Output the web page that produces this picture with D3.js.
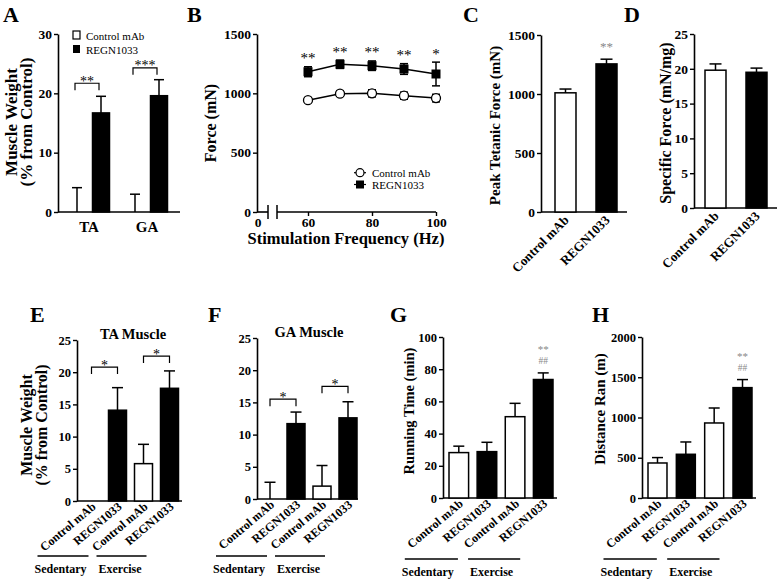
<!DOCTYPE html>
<html><head><meta charset="utf-8">
<script src="https://cdn.jsdelivr.net/npm/d3@7"></script>
<style>
body{margin:0;background:#fff;}
svg{display:block;}
</style></head><body>
<svg id="fig" width="778" height="580"></svg>
<script>
// ---------------- DATA ----------------
// Panel A
const aMuscles = ["TA", "GA"];
const aSeries = ["Control mAb", "REGN1033"];
const aControl = [0, 0];
const aControlErr = [4.1, 3.0];
const aRegn = [16.7, 19.6];
const aRegnErr = [2.8, 2.7];
const aTicks = [0, 10, 20, 30];
const aBracket = [21.7, 24.3];
const aStars = ["**", "***"];
// Panel B
const bFreq = [60, 70, 80, 90, 100];
const bControl = [942, 997, 1000, 980, 960];
const bControlErr = [18, 22, 30, 30, 32];
const bRegn = [1182, 1245, 1233, 1205, 1163];
const bRegnErr = [42, 35, 40, 45, 100];
const bStars = ["**", "**", "**", "**", "*"];
const bYTicks = [0, 500, 1000, 1500];
const bXTicks = [60, 80, 100];
// Panel C
const treatments = ["Control mAb", "REGN1033"];
const cMean = [1010, 1255];
const cErr = [32, 40];
const cYTicks = [0, 500, 1000, 1500];
// Panel D
const dMean = [19.8, 19.5];
const dErr = [0.9, 0.6];
const dYTicks = [0, 5, 10, 15, 20, 25];
// Panels E-H
const barLabels = ["Control mAb", "REGN1033", "Control mAb", "REGN1033"];
const conditions = ["Sedentary", "Exercise"];
const eMean = [0, 14.1, 5.8, 17.5];
const eErr = [0, 3.5, 3.0, 2.7];
const eBracket = [20.8, 22.5];
const eTicks = [0, 5, 10, 15, 20, 25];
const fMean = [0, 11.7, 2.0, 12.6];
const fErr = [2.6, 1.8, 3.2, 2.5];
const fBracket = [15.5, 17.5];
const fTicks = [0, 5, 10, 15, 20, 25];
const gMean = [28.2, 28.8, 50.5, 73.6];
const gErr = [4.0, 5.8, 8.3, 4.1];
const gTicks = [0, 20, 40, 60, 80, 100];
const hMean = [435, 543, 932, 1371];
const hErr = [67, 153, 186, 100];
const hTicks = [0, 500, 1000, 1500, 2000];

// ---------------- HELPERS ----------------
const FONT = '"Liberation Serif","Times New Roman",Times,serif';
const svg = d3.select("#fig").attr("font-family", FONT);
const fills = ["#fff", "#000"];
const fmt = d3.format("d");

function txt(g, x, y, s, o = {}) {
  const t = g.append("text").attr("x", x).attr("y", y).text(s)
    .attr("font-family", FONT)
    .attr("font-size", o.size || 13)
    .attr("font-weight", o.weight || "bold")
    .attr("text-anchor", o.anchor || "start")
    .attr("fill", o.fill || "#000");
  if (o.rotate != null) t.attr("transform", `rotate(${o.rotate},${x},${y})`);
  return t;
}
function yAxis(scale, ticks, x, fs) {
  const ax = svg.append("g").attr("transform", `translate(${x},0)`)
    .call(d3.axisLeft(scale).tickValues(ticks).tickFormat(fmt).tickSize(4).tickSizeOuter(0).tickPadding(2));
  ax.select(".domain").attr("stroke", "#000").attr("stroke-width", 1.6);
  ax.selectAll(".tick line").attr("stroke", "#000").attr("stroke-width", 1.4);
  ax.selectAll(".tick text").attr("font-family", FONT).attr("font-weight", "bold")
    .attr("font-size", fs).attr("fill", "#000");
  return ax;
}
function hline(x1, x2, y, w = 1.6) {
  svg.append("line").attr("x1", x1).attr("x2", x2).attr("y1", y).attr("y2", y)
    .attr("stroke", "#000").attr("stroke-width", w);
}
function errBar(cx, yFrom, yTo, cap) {
  svg.append("line").attr("x1", cx).attr("x2", cx).attr("y1", yFrom).attr("y2", yTo)
    .attr("stroke", "#000").attr("stroke-width", 1.5);
  svg.append("line").attr("x1", cx - cap / 2).attr("x2", cx + cap / 2).attr("y1", yTo).attr("y2", yTo)
    .attr("stroke", "#000").attr("stroke-width", 1.5);
}
function bar(x, w, y, y0, fill) {
  if (y0 - y < 0.5) return;
  svg.append("rect").attr("x", x).attr("y", y).attr("width", w).attr("height", y0 - y)
    .attr("fill", fill).attr("stroke", "#000").attr("stroke-width", 1.5);
}
function bracket(x1, x2, y, leg, label, size) {
  svg.append("path").attr("d", `M${x1},${y + leg}V${y}H${x2}V${y + leg}`)
    .attr("fill", "none").attr("stroke", "#000").attr("stroke-width", 1.2);
  txt(svg, (x1 + x2) / 2, y + 0.5 * size - 4.5, label, { size, anchor: "middle", weight: "normal" });
}

// ---------------- PANEL A ----------------
txt(svg, 3, 22, "A", { size: 22 });
const yA = d3.scaleLinear().domain([0, 30]).range([212, 34]);
const xA = d3.scaleBand().domain(aMuscles).range([60, 176]);
const xAs = d3.scaleBand().domain(aSeries).range([8.5, 49.5]).paddingInner(0.2917);
yAxis(yA, aTicks, 58, 13.5);
hline(58, 180, 212);
aMuscles.forEach((m, i) => {
  const vals = [aControl[i], aRegn[i]], errs = [aControlErr[i], aRegnErr[i]];
  const centers = [];
  aSeries.forEach((s, j) => {
    const x = xA(m) + xAs(s), w = xAs.bandwidth();
    bar(x, w, yA(vals[j]), yA(0), fills[j]);
    errBar(x + w / 2, yA(vals[j]), yA(vals[j] + errs[j]), 10);
    centers.push(x + w / 2);
  });
  bracket(centers[0] - 2, centers[1] - 2, yA(aBracket[i]), 7, aStars[i], 14);
  txt(svg, xA(m) + xA.bandwidth() / 2, 232, m, { size: 15, anchor: "middle" });
});
svg.append("rect").attr("x", 73).attr("y", 31).attr("width", 7).attr("height", 8)
  .attr("fill", "#fff").attr("stroke", "#000").attr("stroke-width", 1.2);
svg.append("rect").attr("x", 73).attr("y", 45).attr("width", 7).attr("height", 8).attr("fill", "#000");
txt(svg, 86, 39.5, aSeries[0], { size: 11, weight: "normal" });
txt(svg, 86, 53.5, aSeries[1], { size: 11, weight: "normal" });
txt(svg, 17, 122, "Muscle Weight", { size: 17, anchor: "middle", rotate: -90 });
txt(svg, 32, 122, "(% from Control)", { size: 17, anchor: "middle", rotate: -90 });

// ---------------- PANEL B ----------------
txt(svg, 187, 22, "B", { size: 22 });
const yB = d3.scaleLinear().domain([0, 1500]).range([212, 34]);
const xB = d3.scaleLinear().domain([60, 100]).range([308, 436]);
yAxis(yB, bYTicks, 257, 13.5);
hline(257, 268, 212);
hline(277, 436, 212);
[268, 277].forEach(x => svg.append("line").attr("x1", x).attr("x2", x).attr("y1", 205).attr("y2", 219)
  .attr("stroke", "#000").attr("stroke-width", 1.5));
const bxAx = svg.append("g").attr("transform", "translate(0,212)")
  .call(d3.axisBottom(xB).tickValues(bXTicks).tickFormat(fmt).tickSize(4).tickSizeOuter(0).tickPadding(1));
bxAx.select(".domain").remove();
bxAx.selectAll(".tick line").attr("stroke", "#000").attr("stroke-width", 1.4);
bxAx.selectAll(".tick text").attr("font-family", FONT).attr("font-weight", "bold").attr("font-size", 13.5).attr("fill", "#000");
txt(svg, 258, 227, "0", { size: 13.5, anchor: "middle" });
const lineGen = d3.line().x((d, i) => xB(bFreq[i])).y(d => yB(d));
[bControl, bRegn].forEach(arr => svg.append("path").attr("d", lineGen(arr)).attr("fill", "none")
  .attr("stroke", "#000").attr("stroke-width", 1.5));
bFreq.forEach((f, i) => {
  errBar(xB(f), yB(bControl[i] - bControlErr[i]), yB(bControl[i] + bControlErr[i]), 8);
  svg.append("line").attr("x1", xB(f) - 4).attr("x2", xB(f) + 4)
    .attr("y1", yB(bControl[i] - bControlErr[i])).attr("y2", yB(bControl[i] - bControlErr[i]))
    .attr("stroke", "#000").attr("stroke-width", 1.5);
  errBar(xB(f), yB(bRegn[i] - bRegnErr[i]), yB(bRegn[i] + bRegnErr[i]), 8);
  svg.append("line").attr("x1", xB(f) - 4).attr("x2", xB(f) + 4)
    .attr("y1", yB(bRegn[i] - bRegnErr[i])).attr("y2", yB(bRegn[i] - bRegnErr[i]))
    .attr("stroke", "#000").attr("stroke-width", 1.5);
  svg.append("circle").attr("cx", xB(f)).attr("cy", yB(bControl[i])).attr("r", 4.5)
    .attr("fill", "#fff").attr("stroke", "#000").attr("stroke-width", 1.3);
  svg.append("rect").attr("x", xB(f) - 4.5).attr("y", yB(bRegn[i]) - 4.5).attr("width", 9).attr("height", 9)
    .attr("fill", "#000");
  const c = yB(bRegn[i] + bRegnErr[i]) - 11;
  txt(svg, xB(f), c + 7.5, bStars[i], { size: 15, anchor: "middle", weight: "normal" });
});
// legend B
hline(354, 366, 172.7, 1.2);
svg.append("circle").attr("cx", 360).attr("cy", 172.7).attr("r", 4).attr("fill", "#fff").attr("stroke", "#000").attr("stroke-width", 1.2);
hline(354, 366, 184.5, 1.2);
svg.append("rect").attr("x", 356).attr("y", 180.5).attr("width", 8).attr("height", 8).attr("fill", "#000");
txt(svg, 372, 176.5, "Control mAb", { size: 11, weight: "normal" });
txt(svg, 372, 188.5, "REGN1033", { size: 11, weight: "normal" });
txt(svg, 216, 123, "Force (mN)", { size: 16, anchor: "middle", rotate: -90 });
txt(svg, 346, 244, "Stimulation Frequency (Hz)", { size: 16.5, anchor: "middle" });

// ---------------- PANEL C / D ----------------
function twoBar(letter, letterX, means, errs, ticks, yMax, axisX, bandR, axisEnd, y0, yTop, title, titleX, titleSize, star) {
  txt(svg, letterX, 22, letter, { size: 22 });
  const y = d3.scaleLinear().domain([0, yMax]).range([y0, yTop]);
  const x = d3.scaleBand().domain(treatments).range(bandR).paddingInner(0.488);
  yAxis(y, ticks, axisX, 13.5);
  hline(axisX, axisEnd, y0);
  treatments.forEach((t, j) => {
    const cx = x(t) + x.bandwidth() / 2;
    bar(x(t), x.bandwidth(), y(means[j]), y0, fills[j]);
    errBar(cx, y(means[j]), y(means[j] + errs[j]), 12);
    svg.append("text").attr("transform", `translate(${cx + 4},${y0 + 9}) rotate(-45)`)
      .attr("text-anchor", "end").attr("font-family", FONT).attr("font-weight", "bold")
      .attr("font-size", 13).text(t);
    if (star && j === 1) {
      const c = y(means[j] + errs[j]) - 15;
      txt(svg, cx, c + 6.5, star, { size: 13, anchor: "middle", weight: "normal", fill: "#888" });
    }
  });
  txt(svg, titleX, (y0 + yTop) / 2 + 2, title, { size: titleSize, anchor: "middle", rotate: -90 });
}
twoBar("C", 463, cMean, cErr, cYTicks, 1500, 541, [555, 617], 627, 212, 35,
  "Peak Tetanic Force (mN)", 500, 15, "**");
twoBar("D", 624, dMean, dErr, dYTicks, 25, 694, [705, 767], 777, 208, 34,
  "Specific Force (mN/mg)", 671, 16, null);

// ---------------- PANELS E-H ----------------
function fourBar(cfg) {
  txt(svg, cfg.letterX, 322, cfg.letter, { size: 22 });
  const y = d3.scaleLinear().domain([0, cfg.yMax]).range([cfg.y0, cfg.yTop]);
  const x = d3.scaleBand().domain(d3.range(4)).range(cfg.band).paddingInner(cfg.pad);
  yAxis(y, cfg.ticks, cfg.axisX, 12.5);
  hline(cfg.axisX, cfg.axisEnd, cfg.y0);
  const cx = i => x(i) + x.bandwidth() / 2;
  cfg.means.forEach((m, i) => {
    bar(x(i), x.bandwidth(), y(m), cfg.y0, fills[i % 2]);
    if (cfg.errs[i] > 0) errBar(cx(i), y(m), y(m + cfg.errs[i]), 11);
    svg.append("text").attr("transform", `translate(${cx(i) + 5},${cfg.y0 + 7}) rotate(-40)`)
      .attr("text-anchor", "end").attr("font-family", FONT).attr("font-weight", "bold")
      .attr("font-size", 12).text(barLabels[i]);
  });
  if (cfg.brackets) {
    cfg.brackets.forEach((b, k) => bracket(cx(2 * k), cx(2 * k + 1), y(b), 7, "*", 14));
  }
  if (cfg.sig) {
    const top = y(cfg.means[3] + cfg.errs[3]);
    txt(svg, cx(3), top - 25 + 5.5, "**", { size: 11, anchor: "middle", weight: "normal", fill: "#888" });
    txt(svg, cx(3), top - 12.5 + 3.5, "##", { size: 9.5, anchor: "middle", weight: "normal", fill: "#888" });
  }
  // group lines
  const sed = [cx(0) - 54, cx(1) - 29], exe = [cx(2) - 47, cx(3) - 23];
  hline(sed[0], sed[1], cfg.lineY, 1.6);
  hline(exe[0], exe[1], cfg.lineY, 1.6);
  txt(svg, sed[0] - 3, cfg.lineY + 16.5, conditions[0], { size: 12 });
  txt(svg, exe[0] + 2, cfg.lineY + 16.5, conditions[1], { size: 12 });
  if (cfg.title) txt(svg, cfg.titleX, cfg.yTop - 1, cfg.title, { size: 14.5, anchor: "middle" });
}
fourBar({ letter: "E", letterX: 30, means: eMean, errs: eErr, ticks: eTicks, yMax: 25, y0: 501, yTop: 340,
  axisX: 77, axisEnd: 182, band: [82.5, 178.5], pad: 0.3077, brackets: eBracket, lineY: 556,
  title: "TA Muscle", titleX: 133 });
txt(svg, 32, 425, "Muscle Weight", { size: 16, anchor: "middle", rotate: -90 });
txt(svg, 47, 425, "(% from Control)", { size: 16, anchor: "middle", rotate: -90 });
fourBar({ letter: "F", letterX: 208, means: fMean, errs: fErr, ticks: fTicks, yMax: 25, y0: 499, yTop: 338,
  axisX: 257, axisEnd: 358, band: [261, 357], pad: 0.3077, brackets: fBracket, lineY: 556,
  title: "GA Muscle", titleX: 309 });
fourBar({ letter: "G", letterX: 390, means: gMean, errs: gErr, ticks: gTicks, yMax: 100, y0: 498, yTop: 337,
  axisX: 443, axisEnd: 557, band: [449, 553], pad: 0.3036, sig: true, lineY: 559 });
txt(svg, 414, 411, "Running Time (min)", { size: 14.5, anchor: "middle", rotate: -90 });
fourBar({ letter: "H", letterX: 592, means: hMean, errs: hErr, ticks: hTicks, yMax: 2000, y0: 498, yTop: 337,
  axisX: 642, axisEnd: 756, band: [648, 752], pad: 0.33, sig: true, lineY: 559 });
txt(svg, 605, 409, "Distance Ran (m)", { size: 15, anchor: "middle", rotate: -90 });
</script></body></html>
